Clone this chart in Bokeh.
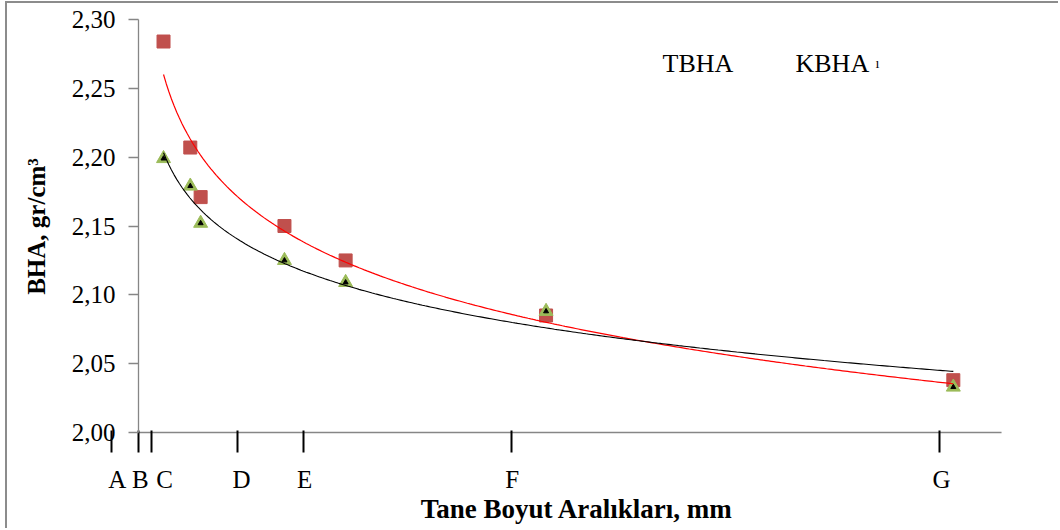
import numpy as np
from bokeh.plotting import figure
from bokeh.models import (Range1d, FixedTicker, CustomJSTickFormatter, Label,
                          LabelSet, ColumnDataSource, LinearAxis)
from bokeh.embed import file_html
from bokeh.resources import INLINE

# ---------------- data ----------------
sizes = [2.32, 4.80, 5.76, 13.53, 19.20, 37.78, 75.53]          # x positions of measurements
tbha = [2.284, 2.207, 2.171, 2.150, 2.125, 2.085, 2.038]        # red squares
kbha = [2.199, 2.179, 2.152, 2.125, 2.109, 2.088, 2.033]        # green triangles
range_letters = ["A", "B", "C", "D", "E", "F", "G"]
range_ticks = [-2.52, 0.0, 1.22, 9.16, 15.31, 34.6, 74.27]
range_label_x = [-1.97, 0.16, 2.41, 9.55, 15.39, 34.64, 74.43]
y_ticks = [2.00, 2.05, 2.10, 2.15, 2.20, 2.25, 2.30]
legend_names = ["TBHA", "KBHA"]
x_axis_title = "Tane Boyut Aralıkları, mm"
y_axis_title = "BHA, gr/cm³"

FONT = "Liberation Serif"
AXIS_GREY = "#868686"

# ---------------- geometry (page pixels) ----------------
PAGE_W, PAGE_H = 1060, 530
CANVAS_X0, CANVAS_Y0 = 7, 3          # after 5px/1px margin + 2px border
X0_PX, PX_PER_X = 138.0, 10.788      # x = 0 at the y axis
Y_TOP_PX, PX_PER_Y = 19.0, 1376.7    # y = 2.30 at the top tick
X_AXIS_END = 80.0
LBL_FIX = 9.5                        # Label draws its baseline this much lower


def px2x(px):
    return (px - X0_PX) / PX_PER_X


def px2y(py):
    return y_ticks[-1] - (py - Y_TOP_PX) / PX_PER_Y


p = figure(width=PAGE_W - CANVAS_X0, height=PAGE_H - CANVAS_Y0,
           output_backend="svg", toolbar_location=None,
           x_range=Range1d(px2x(CANVAS_X0), px2x(PAGE_W)),
           y_range=Range1d(px2y(PAGE_H), px2y(CANVAS_Y0)),
           x_axis_location=None, y_axis_location=None,
           min_border_left=0, min_border_right=0, min_border_top=0,
           min_border_bottom=0)
p.margin = (1, 0, 0, 5)
p.styles = {"border-top": "2px solid #8c8c8c", "border-left": "2px solid #8c8c8c"}
p.outline_line_color = None
p.grid.visible = False
p.background_fill_color = "white"
p.border_fill_color = "white"

# y axis at x = 0
ya = LinearAxis(fixed_location=0, bounds=(y_ticks[0], y_ticks[-1]),
                ticker=FixedTicker(ticks=y_ticks),
                formatter=CustomJSTickFormatter(code="return tick.toFixed(2).replace('.', ',')"))
ya.axis_line_color = AXIS_GREY
ya.axis_line_width = 1.3
ya.major_tick_line_color = AXIS_GREY
ya.major_tick_line_width = 1.3
ya.major_tick_out = 10
ya.major_tick_in = 0
ya.minor_tick_line_color = None
ya.major_label_text_font = FONT
ya.major_label_text_font_size = "25px"
ya.major_label_text_color = "black"
ya.major_label_standoff = 13
p.add_layout(ya, "left")

# x axis at y = 2.00: only the black range ticks
xa = LinearAxis(fixed_location=y_ticks[0], ticker=FixedTicker(ticks=range_ticks),
                formatter=CustomJSTickFormatter(code="return ''"))
xa.axis_line_color = None
xa.major_tick_line_color = "black"
xa.major_tick_line_width = 2
xa.major_tick_out = 20
xa.major_tick_in = 2
xa.minor_tick_line_color = None
xa.major_label_text_font_size = "10px"
p.add_layout(xa, "below")

# horizontal axis line (from the y axis to the end of the axis)
p.segment(x0=[0], y0=[y_ticks[0]], x1=[X_AXIS_END], y1=[y_ticks[0]],
          line_color=AXIS_GREY, line_width=1.3)

# ---------------- markers ----------------
p.scatter(sizes, tbha, marker="square", size=13, fill_color="#C0504D",
          line_color="#C0504D")
p.scatter(sizes, kbha, marker="triangle", size=14, fill_color="#9BBB59",
          line_color="#9BBB59")
p.scatter(sizes, kbha, marker="triangle", size=5, fill_color="black",
          line_color="black")

# ---------------- logarithmic trend lines (least-squares fit of the data) ----------------
xs = np.linspace(sizes[0], sizes[-1], 300)
a1, b1 = np.polyfit(np.log(sizes), tbha, 1)
a2, b2 = np.polyfit(np.log(sizes), kbha, 1)
p.line(xs, a1 * np.log(xs) + b1, line_color="#FF0000", line_width=1.2)
p.line(xs, a2 * np.log(xs) + b2, line_color="#000000", line_width=1.1)

# ---------------- texts ----------------
src = ColumnDataSource(dict(x=range_label_x, y=[px2y(487.5)] * len(range_letters),
                            t=range_letters))
p.add_layout(LabelSet(x="x", y="y", text="t", source=src,
                      text_align="center", text_baseline="alphabetic",
                      text_font=FONT, text_font_size="25px", text_color="black"))

p.add_layout(Label(x=px2x(576.5), y=px2y(518 - LBL_FIX), text=x_axis_title,
                   text_align="center", text_baseline="alphabetic", text_font=FONT,
                   text_font_size="27px", text_font_style="bold", text_color="black"))

p.add_layout(Label(x=px2x(45.5 - LBL_FIX), y=px2y(226), angle=np.pi / 2, text=y_axis_title,
                   text_align="center", text_baseline="alphabetic", text_font=FONT,
                   text_font_size="25px", text_font_style="bold", text_color="black"))

p.add_layout(Label(x=px2x(662), y=px2y(72 - LBL_FIX), text=legend_names[0], text_align="left",
                   text_baseline="alphabetic", text_font=FONT, text_font_size="26px",
                   text_color="black"))
p.add_layout(Label(x=px2x(795), y=px2y(72 - LBL_FIX), text=legend_names[1], text_align="left",
                   text_baseline="alphabetic", text_font=FONT, text_font_size="26px",
                   text_color="black"))
p.add_layout(Label(x=px2x(875), y=px2y(72 - LBL_FIX), text="ı", text_align="left",
                   text_baseline="alphabetic", text_font=FONT, text_font_size="14px",
                   text_color="black"))

open("out.html", "w").write(file_html(p, INLINE))
